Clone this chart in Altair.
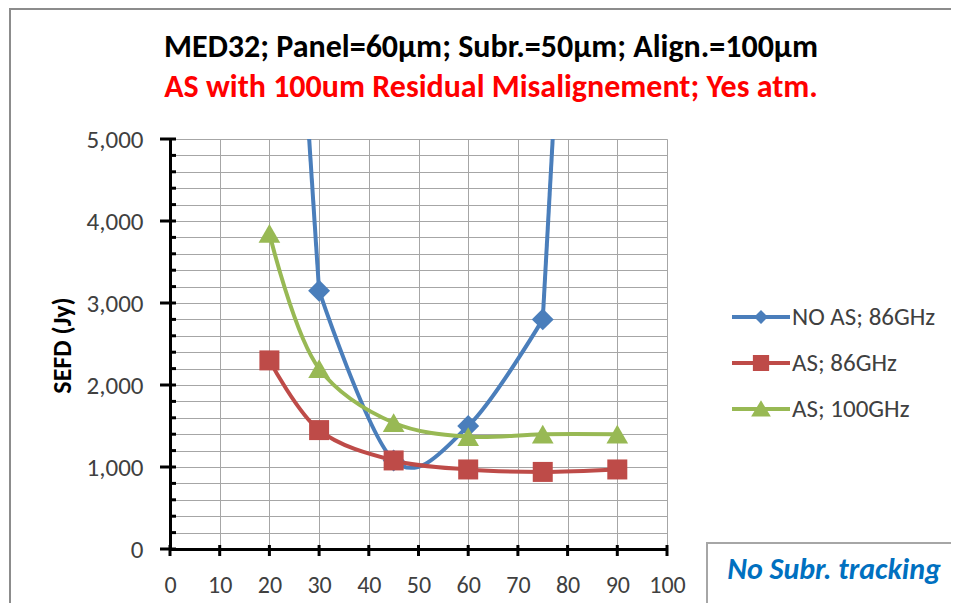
import altair as alt
import pandas as pd

# ---------------- data ----------------
x_vals = [20, 30, 45, 60, 75, 90]
no_as_86 = [12400, 3150, 1080, 1500, 2800, 19300]
as_86 = [2300, 1450, 1080, 970, 940, 970]
as_100 = [3850, 2200, 1540, 1370, 1400, 1400]
series_names = ["NO AS; 86GHz", "AS; 86GHz", "AS; 100GHz"]
line_colors = ["#4A7EBB", "#BE4B48", "#98B954"]
marker_shapes = ["diamond", "square", "triangle-up"]
marker_sizes = [480, 400, 470]

x_ticks = list(range(0, 101, 10))
y_ticks = list(range(0, 5001, 200))
y_major = list(range(0, 5001, 1000))

title_text = "MED32; Panel=60µm; Subr.=50µm; Align.=100µm"
subtitle_text = "AS with 100um Residual Misalignement; Yes atm."
note_text = "No Subr.  tracking"
y_title = "SEFD (Jy)"

FONT = "Carlito, Lato, sans-serif"
W, H = 497, 410

rows = []
for name, vals in zip(series_names, [no_as_86, as_86, as_100]):
    for xv, v in zip(x_vals, vals):
        rows.append({"series": name, "x": xv, "sefd": v})
df = pd.DataFrame(rows)

xscale = alt.Scale(domain=[0, 100], nice=False, zero=False)
yscale = alt.Scale(domain=[0, 5000], nice=False, zero=False)
color_scale = alt.Scale(domain=series_names, range=line_colors)

X_AXIS = alt.Axis(
    values=x_ticks,
    title=None,
    grid=True,
    gridColor="#A6A6A6",
    gridWidth=1,
    domainColor="#000000",
    domainWidth=3,
    ticks=False,
    labelFont=FONT,
    labelFontSize=24,
    labelColor="#404040",
    labelPadding=24,
    labelOverlap=False,
    labelFlush=False,
)
Y_AXIS = alt.Axis(
    values=y_ticks,
    grid=True,
    gridColor="#A6A6A6",
    gridWidth=1,
    domainColor="#000000",
    domainWidth=3,
    ticks=False,
    labelExpr="datum.value % 1000 === 0 ? format(datum.value, ',') : ''",
    labelFont=FONT,
    labelFontSize=25,
    labelColor="#404040",
    labelPadding=27,
    labelOverlap=False,
    labelFlush=False,
    title=y_title,
    titleFont=FONT,
    titleFontSize=26,
    titleFontWeight="bold",
    titleColor="#000000",
    titleX=-108,
    titleY=206,
    titleAngle=-90,
    titleAlign="center",
    titleBaseline="middle",
)

# legend symbols: a line segment with the series marker in its middle (all filled)
legend_paths = [
    "M-1,-0.07H1V0.07H-1ZM0,-0.24L0.24,0L0,0.24L-0.24,0Z",
    "M-1,-0.07H1V0.07H-1ZM-0.28,-0.28H0.28V0.28H-0.28Z",
    "M-1,-0.07H1V0.07H-1ZM0,-0.3L0.34,0.26H-0.34Z",
]

legend = alt.Legend(
    title=None,
    orient="none",
    legendX=562,
    legendY=149,
    padding=0,
    labelFont=FONT,
    labelFontSize=25,
    labelColor="#404040",
    labelOffset=2,
    symbolSize=3364,
    symbolStrokeWidth=0,
    symbolOpacity=1,
    rowPadding=4,
)

base = alt.Chart(df)
blue = series_names[0]


def line_layer(flt, interp, color):
    return base.transform_filter(flt).mark_line(
        interpolate=interp, strokeWidth=4, clip=True, color=color
    ).encode(
        x=alt.X("x:Q", scale=xscale, axis=X_AXIS),
        y=alt.Y("sefd:Q", scale=yscale, axis=Y_AXIS),
    )


# Excel-like smoothing of the blue curve: steep straight exits beyond the
# 30 and 75 points, smooth spline in between.
blue_left = line_layer((alt.datum.series == blue) & (alt.datum.x <= 30), "linear", line_colors[0])
blue_mid = line_layer(
    (alt.datum.series == blue) & (alt.datum.x >= 30) & (alt.datum.x <= 75), "cardinal", line_colors[0]
)
blue_right = line_layer((alt.datum.series == blue) & (alt.datum.x >= 75), "linear", line_colors[0])
red_line = line_layer(alt.datum.series == series_names[1], "catmull-rom", line_colors[1])
green_line = line_layer(alt.datum.series == series_names[2], "catmull-rom", line_colors[2])

point_layers = []
for name, shp, sz, col in zip(series_names, marker_shapes, marker_sizes, line_colors):
    point_layers.append(
        base.transform_filter(alt.datum.series == name)
        .mark_point(filled=True, opacity=1, clip=True, shape=shp, size=sz, color=col)
        .encode(
            x=alt.X("x:Q", scale=xscale, axis=X_AXIS),
            y=alt.Y("sefd:Q", scale=yscale, axis=Y_AXIS),
        )
    )

legend_layer = base.mark_point(filled=True, opacity=1).encode(
    x=alt.value(-3000),
    y=alt.value(-3000),
    color=alt.Color("series:N", scale=color_scale, legend=legend),
    shape=alt.Shape(
        "series:N",
        scale=alt.Scale(domain=series_names, range=legend_paths),
        legend=legend,
    ),
)

ytick_df = pd.DataFrame({"v": y_ticks})
ymaj_df = pd.DataFrame({"v": y_major})
xtick_df = pd.DataFrame({"v": x_ticks})

y_minor_ticks = alt.Chart(ytick_df).mark_rule(color="#000000", strokeWidth=3).encode(
    y=alt.Y("v:Q", scale=yscale, axis=Y_AXIS),
    x=alt.value(0),
    x2=alt.value(6),
)
y_major_ticks = alt.Chart(ymaj_df).mark_rule(color="#000000", strokeWidth=3).encode(
    y=alt.Y("v:Q", scale=yscale, axis=Y_AXIS),
    x=alt.value(-10),
    x2=alt.value(0),
)
x_major_ticks = alt.Chart(xtick_df).mark_rule(color="#000000", strokeWidth=3).encode(
    x=alt.X("v:Q", scale=xscale, axis=X_AXIS),
    y=alt.value(H - 4),
    y2=alt.value(H + 7),
)

frame = alt.Chart(pd.DataFrame({"k": [0]})).mark_rect(
    fill="#FFFFFF", fillOpacity=0, stroke="#8C8C8C", strokeWidth=2
).encode(
    x=alt.value(-160), x2=alt.value(900), y=alt.value(-130), y2=alt.value(900)
)

title_df = pd.DataFrame({"t": [title_text], "s": [subtitle_text]})
title1 = alt.Chart(title_df).mark_text(
    font=FONT, fontSize=32, fontWeight="bold", color="#000000",
    align="center", baseline="middle",
).encode(x=alt.value(321), y=alt.value(-92), text="t:N")
title2 = alt.Chart(title_df).mark_text(
    font=FONT, fontSize=32, fontWeight="bold", color="#FF0000",
    align="center", baseline="middle",
).encode(x=alt.value(321), y=alt.value(-52), text="s:N")

note_box = alt.Chart(pd.DataFrame({"k": [0]})).mark_rect(
    fill="#FFFFFF", stroke="#A6A6A6", strokeWidth=2
).encode(
    x=alt.value(537), x2=alt.value(900), y=alt.value(404), y2=alt.value(469)
)

note = alt.Chart(pd.DataFrame({"t": [note_text]})).mark_text(
    font=FONT, fontSize=30, fontStyle="italic", fontWeight="bold",
    color="#0070C0", align="center", baseline="middle",
).encode(x=alt.value(664), y=alt.value(431), text="t:N")

chart = alt.layer(
    frame, y_minor_ticks, blue_left, blue_mid, blue_right, red_line, green_line,
    *point_layers, legend_layer,
    y_major_ticks, x_major_ticks, title1, title2, note_box, note
).properties(
    width=W,
    height=H,
    padding={"left": 162, "top": 131, "right": 284, "bottom": 54},
    autosize=alt.AutoSizeParams(type="none"),
).configure_view(stroke=None).configure(background="#FFFFFF")

chart.save("out.html", embed_options={"renderer": "svg", "actions": False})
